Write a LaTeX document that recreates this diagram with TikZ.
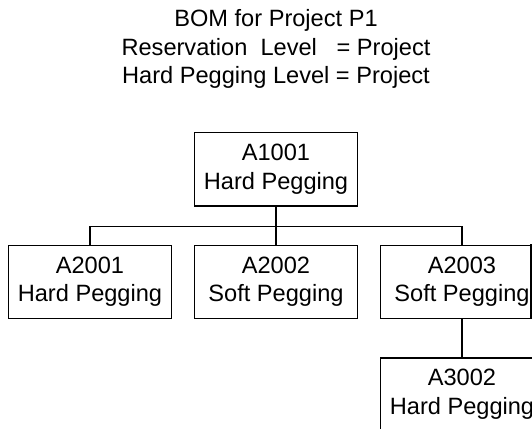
\documentclass[tikz,border=0pt]{standalone}
\usepackage{fontspec}
\setmainfont{Liberation Sans}
\usepackage{tikz-qtree}
\usepackage{xcolor}

\begin{document}
\begin{tikzpicture}[x=1pt,y=1pt]
        \tikzset{every tree node/.style={draw,anchor=north,align=center,
                minimum width=163pt,minimum height=73pt,line width=1.5pt,
                font=\fontsize{23.6}{28.7}\selectfont},
            edge from parent/.style=
                {draw,line width=1.5pt,edge from parent path=
                    {(\tikzparentnode.south) -- ++(0,-20pt) -| (\tikzchildnode.north)}},
            level distance=112.5pt,sibling distance=21.5pt}
        \useasboundingbox (0,0) rectangle (532,428);
        \clip (0,0) rectangle (532,428);
        \node (title) [anchor=north,inner sep=0pt,align=center,
            font=\fontsize{23.6}{28.7}\selectfont] at (276,418.7)
            {BOM for Project P1\\Reservation\ \ Level\ \ \ = Project\\Hard Pegging Level = Project};
        \begin{scope}[shift={(276,296)}]
        \Tree
        [.\node(a1001){A1001\\Hard Pegging};
                \node(a2001){A2001\\Hard Pegging};
                \node(a2002){A2002\\Soft Pegging};
                [.\node(a2003){A2003\\Soft Pegging};
                        \node(a3002){A3002\\Hard Pegging};
                ]
        ]
        \end{scope}
        \draw[line width=1.5pt] ([xshift=-13.5pt]a2003.north east) -- ([xshift=-13.5pt]a2003.south east);
    \end{tikzpicture}
\end{document}
